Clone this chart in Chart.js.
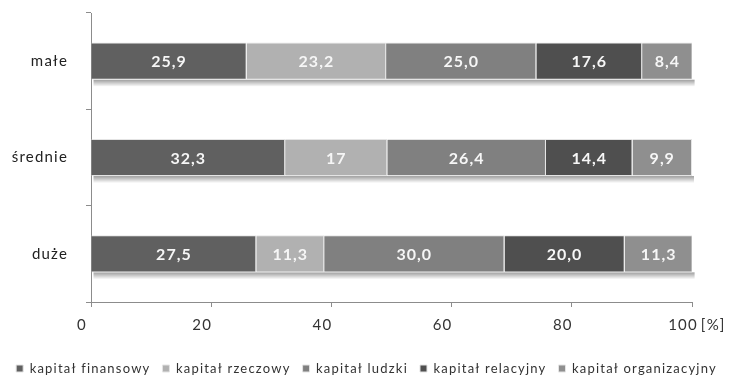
<!DOCTYPE html>
<html><head><meta charset="utf-8">
<script src="https://cdn.jsdelivr.net/npm/chart.js@4"></script>
<style>html,body{margin:0;padding:0;background:#fff}</style>
</head><body><canvas id="c" width="733" height="376"></canvas>
<script>
const categories = ['małe', 'średnie', 'duże'];
const seriesNames = ['kapitał finansowy', 'kapitał rzeczowy', 'kapitał ludzki', 'kapitał relacyjny', 'kapitał organizacyjny'];
const finansowy = [25.9, 32.3, 27.5];
const rzeczowy = [23.2, 17, 11.3];
const ludzki = [25.0, 26.4, 30.0];
const relacyjny = [17.6, 14.4, 20.0];
const organizacyjny = [8.4, 9.9, 11.3];
const finansowyText = ['25,9', '32,3', '27,5'];
const rzeczowyText = ['23,2', '17', '11,3'];
const ludzkiText = ['25,0', '26,4', '30,0'];
const relacyjnyText = ['17,6', '14,4', '20,0'];
const organizacyjnyText = ['8,4', '9,9', '11,3'];
const xTicks = [0, 20, 40, 60, 80, 100];
const axisUnit = '[%]';

const seriesValues = [finansowy, rzeczowy, ludzki, relacyjny, organizacyjny];
const seriesText = [finansowyText, rzeczowyText, ludzkiText, relacyjnyText, organizacyjnyText];
const colors = ['#606060', '#b1b1b1', '#808080', '#4f4f4f', '#8f8f8f'];
const FONT = 'Lato';
const SPACING = '1.2px';

const spacingPlugin = {
  id: 'spacing',
  beforeLayout(chart) { chart.ctx.letterSpacing = SPACING; },
  beforeDraw(chart) { chart.ctx.letterSpacing = SPACING; }
};

const decorPlugin = {
  id: 'decor',
  beforeDatasetsDraw(chart) {
    const ctx = chart.ctx;
    const metas = chart.getSortedVisibleDatasetMetas();
    ctx.save();
    categories.forEach((c, i) => {
      let left = Infinity, right = -Infinity, bottom = 0;
      metas.forEach(m => {
        const el = m.data[i];
        const p = el.getProps(['x', 'y', 'base', 'height'], true);
        left = Math.min(left, p.base, p.x);
        right = Math.max(right, p.base, p.x);
        bottom = p.y + p.height / 2;
      });
      const g = ctx.createLinearGradient(0, bottom, 0, bottom + 7);
      g.addColorStop(0, 'rgba(0,0,0,0.38)');
      g.addColorStop(1, 'rgba(0,0,0,0)');
      ctx.fillStyle = g;
      ctx.fillRect(left + 2, bottom, right - left, 7);
    });
    ctx.restore();
  },
  afterDatasetsDraw(chart) {
    const ctx = chart.ctx;
    ctx.save();
    ctx.letterSpacing = '1px';
    ctx.font = 'bold 16px ' + FONT;
    ctx.fillStyle = '#f6f6f6';
    ctx.textAlign = 'center';
    ctx.textBaseline = 'middle';
    chart.getSortedVisibleDatasetMetas().forEach(m => {
      m.data.forEach((el, i) => {
        const p = el.getProps(['x', 'y', 'base'], true);
        ctx.fillText(seriesText[m.index][i], (p.x + p.base) / 2, p.y + 1);
      });
    });
    ctx.restore();
  },
  afterDraw(chart) {
    const xs = chart.scales.x;
    const items = xs.getLabelItems();
    const last = items[items.length - 1];
    const ctx = chart.ctx;
    ctx.save();
    ctx.letterSpacing = SPACING;
    ctx.font = '15px ' + FONT;
    ctx.fillStyle = '#333';
    ctx.textAlign = 'left';
    ctx.textBaseline = last.options.textBaseline;
    const [lx, ly] = last.options.translation;
    const w = ctx.measureText(String(last.label)).width;
    ctx.fillText(axisUnit, lx + w / 2 + 3, ly + (last.textOffset || 0));
    ctx.restore();
  }
};

new Chart(document.getElementById('c'), {
  type: 'bar',
  data: {
    labels: categories,
    datasets: seriesNames.map((n, k) => ({
      label: n,
      data: seriesValues[k],
      backgroundColor: colors[k],
      borderColor: '#e4e4e4',
      borderWidth: 1,
      barPercentage: 0.385,
      categoryPercentage: 1
    }))
  },
  options: {
    indexAxis: 'y',
    responsive: false,
    animation: false,
    layout: { padding: { top: 13, right: 0, left: 0, bottom: -9 } },
    plugins: {
      legend: {
        position: 'bottom',
        labels: {
          boxWidth: 7, boxHeight: 7, padding: 12, color: '#333',
          font: { family: FONT, size: 13 }
        }
      },
      tooltip: { enabled: false }
    },
    scales: {
      x: {
        stacked: true, min: 0, max: 100,
        afterBuildTicks(s) { s.ticks = xTicks.map(v => ({ value: v })); },
        afterFit(s) { s.height += 7; },
        ticks: { color: '#333', font: { family: FONT, size: 15 }, padding: 9, labelOffset: -9, maxRotation: 0 },
        grid: { drawOnChartArea: false, tickLength: 5, color: '#8c8c8c' },
        border: { color: '#8c8c8c' }
      },
      y: {
        stacked: true,
        afterFit(s) { s.width = 91; s.paddingTop = 0; s.paddingBottom = 0; },
        ticks: { color: '#222', font: { family: FONT, size: 15 }, padding: 18 },
        grid: { drawOnChartArea: false, offset: true, tickLength: 5, color: '#8c8c8c' },
        border: { color: '#8c8c8c' }
      },
      spacer: {
        type: 'linear', position: 'right', display: true,
        afterFit(s) { s.width = 41; s.paddingTop = 0; s.paddingBottom = 0; },
        ticks: { display: false },
        grid: { display: false },
        border: { display: false }
      }
    }
  },
  plugins: [spacingPlugin, decorPlugin]
});
</script></body></html>
